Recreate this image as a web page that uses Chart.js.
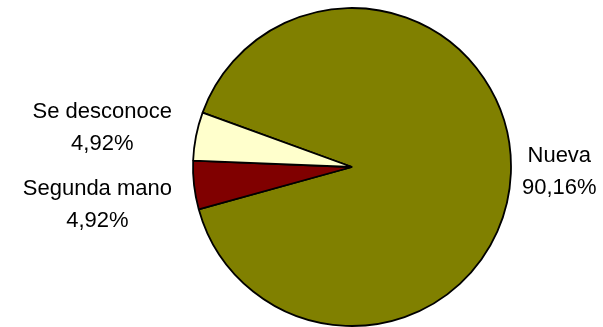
<!DOCTYPE html>
<html>
<head>
<meta charset="utf-8">
<script src="https://cdn.jsdelivr.net/npm/chart.js@4.4.1/dist/chart.umd.min.js"></script>
<style>
  html, body { margin: 0; padding: 0; background: #ffffff; }
  #wrap { width: 603px; height: 327px; position: relative; }
</style>
</head>
<body>
<div id="wrap"><canvas id="c" width="603" height="327"></canvas></div>
<script>
// Data
const categories = ["Nueva", "Segunda mano", "Se desconoce"];
const values = [90.16, 4.92, 4.92];
const percentLabels = ["90,16%", "4,92%", "4,92%"];
const sliceColors = ["#808000", "#800000", "#FFFFCC"];

// Label plugin: draws category name + percentage outside each slice
const outsideLabels = {
  id: 'outsideLabels',
  afterDatasetsDraw(chart, args, opts) {
    const ctx = chart.ctx;
    const meta = chart.getDatasetMeta(0);
    ctx.save();
    ctx.font = opts.labelFont;
    if ('fontKerning' in ctx) ctx.fontKerning = 'none';
    ctx.fillStyle = opts.color;
    ctx.textAlign = 'center';
    ctx.textBaseline = 'middle';
    meta.data.forEach((arc, i) => {
      const p = arc.getProps(['x', 'y', 'startAngle', 'endAngle', 'outerRadius'], true);
      const mid = (p.startAngle + p.endAngle) / 2;
      const side = Math.cos(mid) >= 0 ? 1 : -1;
      const lines = [chart.data.labels[i], percentLabels[i]];
      const w = Math.max(...lines.map(t => ctx.measureText(t).width));
      const gap = side > 0 ? opts.gapRight : opts.gapLeft;
      const xc = p.x + side * (p.outerRadius + gap + w / 2);
      const yc = p.y + Math.sin(mid) * p.outerRadius + (opts.nudgeY[i] || 0);
      const lh = opts.lineHeight;
      lines.forEach((t, k) => {
        ctx.fillText(t, xc, yc + (k - (lines.length - 1) / 2) * lh);
      });
    });
    ctx.restore();
  }
};

new Chart(document.getElementById('c'), {
  type: 'pie',
  data: {
    labels: categories,
    datasets: [{
      data: values,
      backgroundColor: sliceColors,
      borderColor: '#000000',
      borderWidth: 1.8,
      hoverOffset: 0
    }]
  },
  options: {
    responsive: false,
    animation: false,
    rotation: 290,
    radius: 159,
    layout: { padding: { left: 101, right: 0, top: 7, bottom: 0 } },
    plugins: {
      legend: { display: false },
      tooltip: { enabled: false },
      outsideLabels: {
        labelFont: '22px "Liberation Sans", Arial, sans-serif',
        color: '#000000',
        lineHeight: 32,
        gapLeft: 21,
        gapRight: 11,
        nudgeY: [-1, 20, -8]
      }
    }
  },
  plugins: [outsideLabels]
});
</script>
</body>
</html>
